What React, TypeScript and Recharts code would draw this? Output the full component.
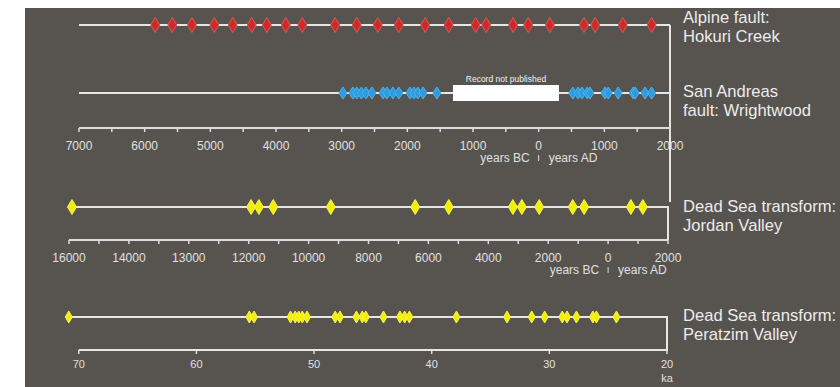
import React from 'react';
import { ScatterChart, Scatter, XAxis, YAxis, ReferenceLine, ReferenceArea } from 'recharts';

// ---------- DATA ----------
// Alpine fault: Hokuri Creek (years; negative = BC)
const alpineEventsYear = [-5840, -5580, -5280, -4940, -4660, -4370, -4140, -3850, -3600, -3100, -2770, -2450, -2130, -1730, -1370, -960, -800, -390, -160, 170, 690, 860, 1280, 1720];
// San Andreas fault: Wrightwood
const sanAndreasEventsYear = [-2980, -2830, -2770, -2700, -2630, -2540, -2370, -2310, -2220, -2130, -1960, -1900, -1840, -1760, -1550, 520, 600, 660, 740, 780, 1010, 1060, 1210, 1440, 1470, 1620, 1720];
const sanAndreasGapYear = [-1305, 309];
const sanAndreasGapLabel = 'Record not published';
const upperRecordYear = [-7000, 2000];
const upperTickYears = [-7000, -6000, -5000, -4000, -3000, -2000, -1000, 0, 1000, 2000];
const upperTickLabels = ['7000', '6000', '5000', '4000', '3000', '2000', '1000', '0', '1000', '2000'];

// Dead Sea transform: Jordan Valley (years; negative = BC)
const jordanEventsYear = [-15900, -11920, -11660, -11180, -9260, -6440, -5320, -3180, -2880, -2300, -1180, -800, 760, 1160];
const jordanTickYears = [-16000, -14000, -13000, -12000, -10000, -8000, -6000, -4000, -2000, 0, 2000];
const jordanTickLabels = ['16000', '14000', '13000', '12000', '10000', '8000', '6000', '4000', '2000', '0', '2000'];

// Dead Sea transform: Peratzim Valley (ka)
const peratzimEventsKa = [70.85, 55.5, 55.1, 52.0, 51.6, 51.3, 51.0, 50.6, 48.2, 47.8, 46.4, 45.9, 45.6, 44.1, 42.7, 42.3, 41.9, 37.9, 33.6, 31.5, 30.4, 28.9, 28.5, 27.7, 26.3, 26.0, 24.3];
const peratzimTicksKa = [70, 60, 50, 40, 30, 20];
const peratzimRecordKa = [71, 20];

const titles = [
  ['Alpine fault:', 'Hokuri Creek'],
  ['San Andreas', 'fault: Wrightwood'],
  ['Dead Sea transform:', 'Jordan Valley'],
  ['Dead Sea transform:', 'Peratzim Valley'],
];
const bcLabel = 'years BC';
const adLabel = 'years AD';
const kaLabel = 'ka';

// ---------- LAYOUT / STYLE ----------
const BG = '#57534f';
const LINE = '#e6e6e6';
const AXIS = '#dcdcdc';
const TEXT = '#e0e0e0';
const FONT = '"Liberation Sans", Arial, Helvetica, sans-serif';

const ROW_ALPINE = 103;
const ROW_SA = 35;
const SA_GAP_HALF = 8;
const BRACKET_BOTTOM = -74;
const ROW_LOWER = 33;

// piecewise mapping of a year onto the Jordan axis (tick index units)
const jordanPos = (year: number) => {
  for (let i = 0; i < jordanTickYears.length - 1; i++) {
    const a = jordanTickYears[i];
    const b = jordanTickYears[i + 1];
    if (year >= a && year <= b) return i + (year - a) / (b - a);
  }
  return year < jordanTickYears[0] ? 0 : jordanTickYears.length - 1;
};

const withHalves = (arr: number[]) => {
  const out: number[] = [];
  arr.forEach((v, i) => {
    out.push(v);
    if (i < arr.length - 1) out.push((v + arr[i + 1]) / 2);
  });
  return out;
};

const diamond = (w: number, h: number, fill: string, stroke: string) => (props: any) => {
  const { cx, cy } = props;
  if (cx == null || cy == null) return <g />;
  return (
    <polygon
      points={`${cx},${cy - h / 2} ${cx + w / 2},${cy} ${cx},${cy + h / 2} ${cx - w / 2},${cy}`}
      fill={fill}
      stroke={stroke}
      strokeWidth={1}
    />
  );
};
const noShape = () => <g />;

const makeTick = (labelFor: (v: number) => string | null, dy: number, fontSize: number) => (props: any) => {
  const { x, y, payload } = props;
  const label = labelFor(payload.value);
  if (label == null) return <g />;
  return (
    <text x={x} y={y + dy} textAnchor="middle" fill={TEXT} fontSize={fontSize} fontFamily={FONT}>
      {label}
    </text>
  );
};

const BcAdLabel = (props: any) => {
  const vb = props.viewBox || {};
  const x = vb.x;
  const axisY = vb.y + vb.height;
  return (
    <g>
      <text x={x - 9} y={axisY + 34} textAnchor="end" fill={TEXT} fontSize={12} fontFamily={FONT}>{bcLabel}</text>
      <line x1={x} x2={x} y1={axisY + 27} y2={axisY + 33} stroke={TEXT} strokeWidth={1} />
      <text x={x + 10} y={axisY + 34} textAnchor="start" fill={TEXT} fontSize={12} fontFamily={FONT}>{adLabel}</text>
    </g>
  );
};

const KaLabel = (props: any) => {
  const vb = props.viewBox || {};
  return (
    <text x={vb.x} y={vb.y + vb.height + 32} textAnchor="middle" fill={TEXT} fontSize={11} fontFamily={FONT}>{kaLabel}</text>
  );
};

const upperTick = makeTick((v) => {
  const i = upperTickYears.indexOf(v);
  return i >= 0 ? upperTickLabels[i] : null;
}, 16, 12);
const jordanTick = makeTick((v) => (Number.isInteger(v) ? jordanTickLabels[v] : null), 16, 12);
const peratzimTick = makeTick((v) => String(v), 12, 11);

const axisLineStyle = { stroke: AXIS, strokeWidth: 2 };
const tickLineStyle = { stroke: AXIS, strokeWidth: 1.5 };

const RowLine = (pts: { x: number; y: number }[], key: string) => (
  <Scatter key={key} data={pts} line={{ stroke: LINE, strokeWidth: 2 }} shape={noShape} isAnimationActive={false} />
);

export default function App() {
  const alpineData = alpineEventsYear.map((x) => ({ x, y: ROW_ALPINE }));
  const saData = sanAndreasEventsYear.map((x) => ({ x, y: ROW_SA }));
  const jordanData = jordanEventsYear.map((yr) => ({ x: jordanPos(yr), y: ROW_LOWER }));
  const peratzimData = peratzimEventsKa.map((x) => ({ x, y: ROW_LOWER }));
  const jStart = jordanPos(jordanTickYears[0]);
  const jEnd = jordanPos(jordanTickYears[jordanTickYears.length - 1]);

  const titleTops = [8, 82, 197, 306];

  return (
    <div style={{ position: 'absolute', left: 0, top: 0, width: 840, height: 387, background: '#ffffff', overflow: 'hidden', fontFamily: FONT }}>
      <div style={{ position: 'absolute', left: 25, top: 8, width: 815, height: 379, background: BG }} />

      {/* Alpine + San Andreas */}
      <div style={{ position: 'absolute', left: 0, top: 0 }}>
        <ScatterChart width={840} height={215} margin={{ top: 10, right: 170, bottom: 57, left: 79 }}>
          <XAxis
            type="number"
            dataKey="x"
            domain={upperRecordYear}
            ticks={withHalves(upperTickYears)}
            interval={0}
            tickSize={4}
            axisLine={axisLineStyle}
            tickLine={tickLineStyle}
            tick={upperTick}
          />
          <YAxis type="number" dataKey="y" domain={[0, 118]} hide />
          <ReferenceArea
            x1={sanAndreasGapYear[0]}
            x2={sanAndreasGapYear[1]}
            y1={ROW_SA - SA_GAP_HALF}
            y2={ROW_SA + SA_GAP_HALF}
            fill="#ffffff"
            fillOpacity={1}
            stroke="none"
            label={{ value: sanAndreasGapLabel, position: 'top', offset: 3, fill: '#f2f2f2', fontSize: 8.5, fontFamily: FONT }}
          />
          <ReferenceLine
            segment={[{ x: upperRecordYear[1], y: ROW_ALPINE }, { x: upperRecordYear[1], y: BRACKET_BOTTOM }]}
            stroke={LINE}
            strokeWidth={2}
            ifOverflow="visible"
          />
          <ReferenceLine x={0} stroke="none" label={<BcAdLabel />} />
          {RowLine([{ x: upperRecordYear[0], y: ROW_ALPINE }, { x: upperRecordYear[1], y: ROW_ALPINE }], 'la')}
          {RowLine([{ x: upperRecordYear[0], y: ROW_SA }, { x: sanAndreasGapYear[0], y: ROW_SA }], 'ls1')}
          {RowLine([{ x: sanAndreasGapYear[1], y: ROW_SA }, { x: upperRecordYear[1], y: ROW_SA }], 'ls2')}
          <Scatter data={alpineData} shape={diamond(9, 15, '#cf2a2a', '#dc5a5a')} isAnimationActive={false} />
          <Scatter data={saData} shape={diamond(8, 12, '#2b9ce0', '#4fb2ee')} isAnimationActive={false} />
        </ScatterChart>
      </div>

      {/* Jordan Valley */}
      <div style={{ position: 'absolute', left: 0, top: 180 }}>
        <ScatterChart width={840} height={110} margin={{ top: 10, right: 172, bottom: 20, left: 69 }}>
          <XAxis
            type="number"
            dataKey="x"
            domain={[jStart, jEnd]}
            ticks={withHalves(jordanTickYears.map((_, i) => i))}
            interval={0}
            tickSize={4}
            axisLine={axisLineStyle}
            tickLine={tickLineStyle}
            tick={jordanTick}
          />
          <YAxis type="number" dataKey="y" domain={[0, 50]} hide />
          <ReferenceLine x={jordanPos(0)} stroke="none" label={<BcAdLabel />} />
          {RowLine([{ x: jStart, y: ROW_LOWER }, { x: jEnd, y: ROW_LOWER }, { x: jEnd, y: 0 }], 'lj')}
          <Scatter data={jordanData} shape={diamond(9, 15, '#f3ef00', '#f7f35a')} isAnimationActive={false} />
        </ScatterChart>
      </div>

      {/* Peratzim Valley */}
      <div style={{ position: 'absolute', left: 0, top: 290 }}>
        <ScatterChart width={840} height={97} margin={{ top: 10, right: 173, bottom: 7, left: 67 }}>
          <XAxis
            type="number"
            dataKey="x"
            domain={[peratzimRecordKa[1], peratzimRecordKa[0]]}
            reversed
            ticks={peratzimTicksKa}
            interval={0}
            tickSize={4}
            axisLine={false}
            tickLine={tickLineStyle}
            tick={peratzimTick}
          />
          <YAxis type="number" dataKey="y" domain={[0, 50]} hide />
          <ReferenceLine x={peratzimTicksKa[peratzimTicksKa.length - 1]} stroke="none" label={<KaLabel />} />
          {RowLine([
            { x: peratzimRecordKa[0], y: ROW_LOWER },
            { x: peratzimRecordKa[1], y: ROW_LOWER },
            { x: peratzimRecordKa[1], y: 0 },
            { x: peratzimTicksKa[0], y: 0 },
          ], 'lp')}
          <Scatter data={peratzimData} shape={diamond(7, 12, '#f3ef00', '#f7f35a')} isAnimationActive={false} />
        </ScatterChart>
      </div>

      {titles.map((t, i) => (
        <div
          key={i}
          style={{
            position: 'absolute',
            left: 683,
            top: titleTops[i],
            color: '#ececec',
            fontSize: 16.6,
            lineHeight: '19px',
            fontFamily: FONT,
            whiteSpace: 'nowrap',
          }}
        >
          <div>{t[0]}</div>
          <div>{t[1]}</div>
        </div>
      ))}
    </div>
  );
}
